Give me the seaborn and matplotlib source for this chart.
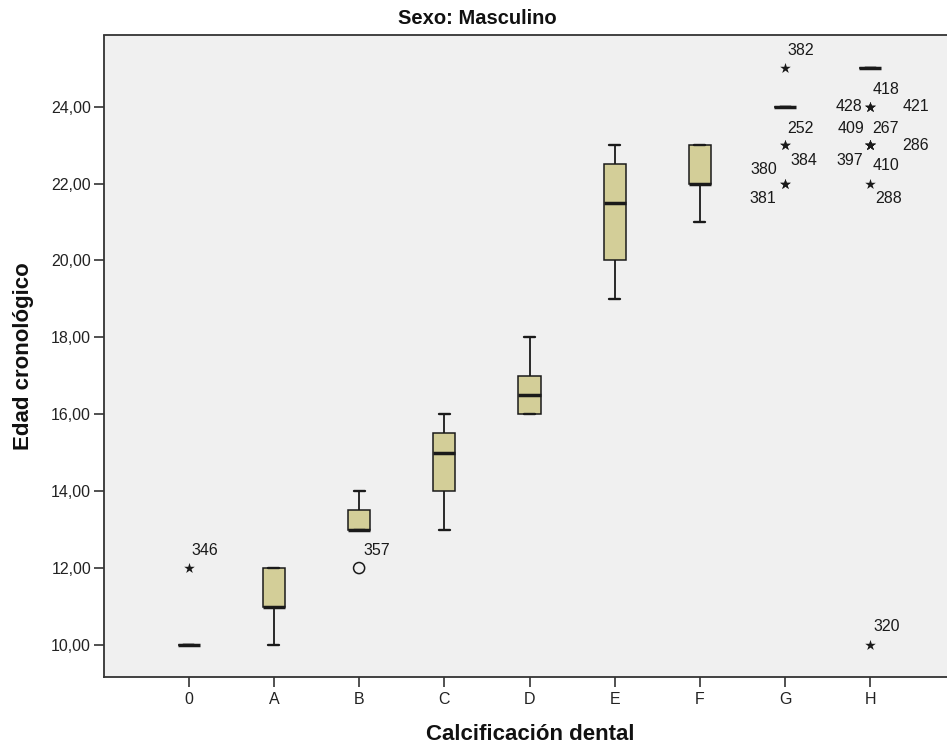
import numpy as np
import pandas as pd
import matplotlib
matplotlib.use("Agg")
import matplotlib.pyplot as plt
import seaborn as sns
from matplotlib.ticker import FuncFormatter, FixedLocator

# ---------------- data ----------------
categories = ["0", "A", "B", "C", "D", "E", "F", "G", "H"]

# non-outlying ages (years) per dental calcification stage
ages_0 = [10, 10, 10, 10, 10]
ages_A = [10, 11, 11, 11, 12, 12, 12]
ages_B = [13, 13, 13, 13, 14, 14]
ages_C = [13, 14, 14, 15, 15, 16, 16]
ages_D = [16, 16, 16, 17, 17, 18]
ages_E = [19, 20, 21.5, 22.5, 23]
ages_F = [21, 22, 22, 23, 23]
ages_G = [24] * 12
ages_H = [25] * 31

# labelled outlying cases
outlier_stage = ["0", "B", "G", "G", "G", "G", "G",
                 "H", "H", "H", "H", "H", "H", "H", "H", "H", "H"]
outlier_age = [12, 12, 25, 23, 23, 22, 22,
               24, 24, 24, 23, 23, 23, 23, 23, 22, 10]
outlier_case = [346, 357, 382, 252, 384, 380, 381,
                418, 428, 421, 409, 267, 286, 397, 410, 288, 320]
outlier_extreme = [True, False, True, True, True, True, True,
                   True, True, True, True, True, True, True, True, True, True]

yticks = [10, 12, 14, 16, 18, 20, 22, 24]

title = "Sexo: Masculino"
xlabel = "Calcificación dental"
ylabel = "Edad cronológico"

# ---------------- styles ----------------
# label offsets in pixels (dx, dy) and horizontal alignment, per case
label_style = {
    346: (3, 18, "left"), 357: (4, 18, "left"), 382: (2, 18, "left"),
    252: (2, 17, "left"), 384: (5, -15, "left"),
    380: (-8, 14, "right"), 381: (-9, -15, "right"),
    418: (2, 17, "left"), 428: (-8, 0, "right"), 421: (32, 0, "left"),
    409: (-6, 17, "right"), 267: (2, 17, "left"), 286: (32, 0, "left"),
    397: (-7, -15, "right"), 410: (2, -20, "left"),
    288: (5, -15, "left"), 320: (3, 18, "left"),
}

BOX_COLOR = "#d3ce98"
BG = "#f0f0f0"
INK = "#1a1a1a"
FONT = ["Liberation Sans", "DejaVu Sans"]

# ---------------- build table ----------------
stage_ages = dict(zip(categories, [ages_0, ages_A, ages_B, ages_C, ages_D,
                                   ages_E, ages_F, ages_G, ages_H]))
rows = [(s, a) for s, vals in stage_ages.items() for a in vals]
rows += list(zip(outlier_stage, outlier_age))
df = pd.DataFrame(rows, columns=["stage", "age"])
out_df = pd.DataFrame({"stage": outlier_stage, "age": outlier_age,
                       "case": outlier_case, "extreme": outlier_extreme})

# ---------------- plot ----------------
sns.set_theme(style="white")
plt.rcParams["font.family"] = FONT

fig = plt.figure(figsize=(9.47, 7.49), dpi=100)
ax = fig.add_axes([103.5 / 947, 72 / 749, 852 / 947, 641.5 / 749])
ax.set_facecolor(BG)

sns.boxplot(data=df, x="stage", y="age", order=categories, ax=ax,
            width=0.26, color=BOX_COLOR, saturation=1, showfliers=False,
            linecolor=INK, linewidth=1.1,
            medianprops=dict(color=INK, linewidth=2.5),
            whiskerprops=dict(color=INK, linewidth=1.3),
            capprops=dict(color=INK, linewidth=1.7),
            boxprops=dict(edgecolor=INK, linewidth=1.1))

ext = out_df[out_df["extreme"]]
mild = out_df[~out_df["extreme"]]
sns.stripplot(data=ext, x="stage", y="age", order=categories, ax=ax,
              jitter=False, marker="*", size=8, color=INK, linewidth=0)
n_before = len(ax.collections)
sns.stripplot(data=mild, x="stage", y="age", order=categories, ax=ax,
              jitter=False, marker="o", size=8, color=INK, linewidth=1.1)
for coll in ax.collections[n_before:]:
    coll.set_facecolor("none")
    coll.set_edgecolor(INK)
    coll.set_linewidth(1.1)

for st, age, case in zip(outlier_stage, outlier_age, outlier_case):
    dx, dy, ha = label_style[case]
    ax.annotate(str(case), xy=(categories.index(st), age),
                xytext=(dx, dy), textcoords="offset pixels",
                ha=ha, va="center", fontsize=11.5, color=INK, family=FONT)

ax.set_xlim(-1, 9)
ax.set_ylim(9.167, 25.85)
ax.yaxis.set_major_locator(FixedLocator(yticks))
ax.yaxis.set_major_formatter(FuncFormatter(lambda v, p: f"{v:.2f}".replace(".", ",")))
ax.set_xlabel("")
ax.set_ylabel("")

for side in ["left", "bottom", "top"]:
    ax.spines[side].set_visible(True)
    ax.spines[side].set_color("#333333")
    ax.spines[side].set_linewidth(1.3)
ax.spines["right"].set_visible(False)

ax.tick_params(axis="both", which="major", direction="out", length=7.5,
               width=1.2, color="#333333", labelsize=11.5, labelcolor="#222222",
               left=True, bottom=True)
ax.tick_params(axis="y", pad=1.5)
ax.tick_params(axis="x", pad=3.5)
ax.grid(False)

fig.text(477 / 947, 1 - 18 / 749, title, ha="center", va="center",
         fontsize=14.5, fontweight="bold", color="#111111", family=FONT)
fig.text(530 / 947, 1 - 735 / 749, xlabel, ha="center", va="center",
         fontsize=16, fontweight="bold", color="#111111", family=FONT)
fig.text(23 / 947, 1 - 356 / 749, ylabel, ha="center", va="center",
         rotation=90, fontsize=16, fontweight="bold", color="#111111", family=FONT)

fig.savefig("out.png", dpi=100, facecolor="white")
